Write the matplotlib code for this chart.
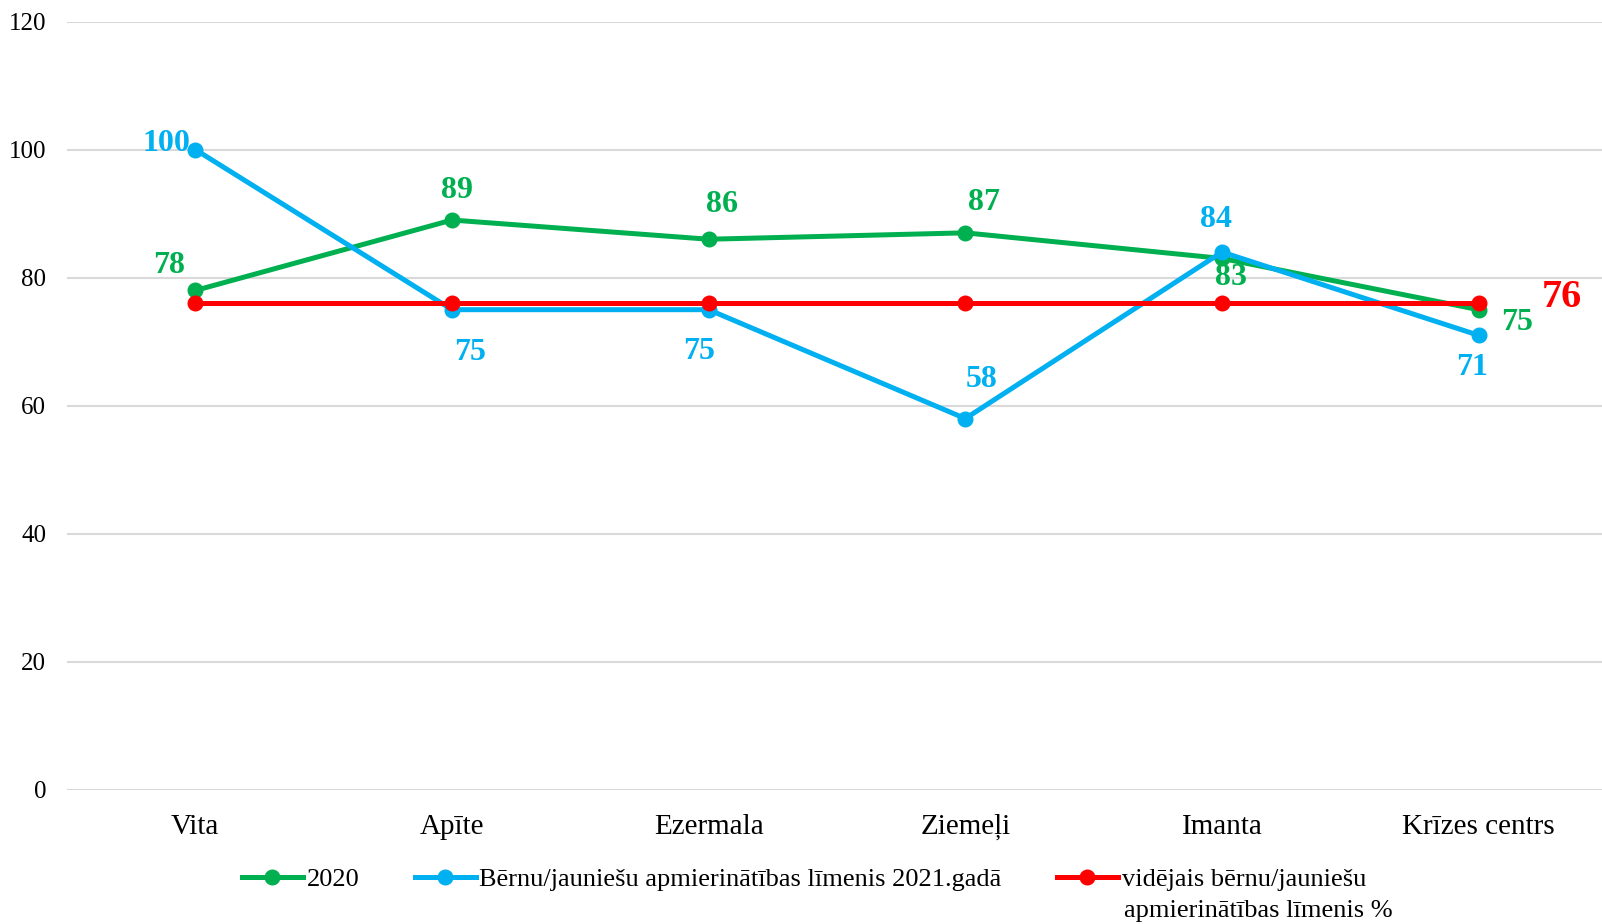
import matplotlib
matplotlib.use("Agg")
import matplotlib.pyplot as plt

categories = ["Vita", "Apīte", "Ezermala", "Ziemeļi", "Imanta", "Krīzes centrs"]
s2020 = [78, 89, 86, 87, 83, 75]
s2021 = [100, 75, 75, 58, 84, 71]
avg = [76, 76, 76, 76, 76, 76]
yticks = [0, 20, 40, 60, 80, 100, 120]

name2020 = "2020"
name2021 = "Bērnu/jauniešu apmierinātības līmenis 2021.gadā"
nameavg_1 = "vidējais bērnu/jauniešu"
nameavg_2 = "apmierinātības līmenis %"

GREEN = "#00B050"
BLUE = "#00B0F0"
RED = "#FF0000"

plt.rcParams['font.family'] = ['Liberation Serif', 'DejaVu Serif']

W, H = 1602, 924
fig = plt.figure(figsize=(W/100, H/100), dpi=100)
ax = fig.add_axes([67/W, 1-790/H, (1607-67)/W, (790-21.5)/H])

x = list(range(len(categories)))
lw = 3.6
ms = 10.5
ax.plot(x, s2020, color=GREEN, lw=lw, marker='o', ms=ms, label=name2020, zorder=3)
ax.plot(x, s2021, color=BLUE, lw=lw, marker='o', ms=ms, label=name2021, zorder=4)
ax.plot(x, avg, color=RED, lw=lw, marker='o', ms=ms, label=nameavg_1, zorder=5)

ax.set_xlim(-0.5, 5.5)
ax.set_ylim(0, 120)
ax.set_yticks(yticks)
ax.set_xticks(x)
ax.set_xticklabels(categories)
ax.tick_params(axis='both', length=0)
ax.tick_params(axis='y', pad=15, labelsize=18)
ax.tick_params(axis='x', pad=17, labelsize=21)
for s in ax.spines.values():
    s.set_visible(False)
ax.grid(axis='y', color='#D9D9D9', lw=1.5)
ax.set_axisbelow(True)

# label offsets in pixels (dx, dy)
off2020 = [(-26, 25), (5, 30), (13, 35), (19, 30), (9, -19), (38, -13)]
off2021 = [(-29, 6), (18, -43), (-10, -42), (16, 39), (-6, 33), (-7, -32)]

for i, v in enumerate(s2020):
    ax.annotate(str(v), (i, v), xytext=off2020[i], textcoords='offset pixels',
                ha='center', va='center', color=GREEN, fontsize=23, fontweight='bold', zorder=6)
for i, v in enumerate(s2021):
    ax.annotate(str(v), (i, v), xytext=off2021[i], textcoords='offset pixels',
                ha='center', va='center', color=BLUE, fontsize=23, fontweight='bold', zorder=6)
ax.annotate(str(avg[-1]), (5, avg[-1]), xytext=(83, 6), textcoords='offset pixels',
            ha='center', va='center', color=RED, fontsize=29, fontweight='bold', zorder=6)

leg = fig.legend(loc='center left', bbox_to_anchor=(242/W, 1-879/H), ncol=3,
                 frameon=False, fontsize=19, handlelength=2.3, handletextpad=0.15,
                 columnspacing=2.1, borderaxespad=0, borderpad=0)
fig.text(1124/W, 1-911/H, nameavg_2, ha='left', va='center', fontsize=19)

fig.savefig("out.png", dpi=100)
